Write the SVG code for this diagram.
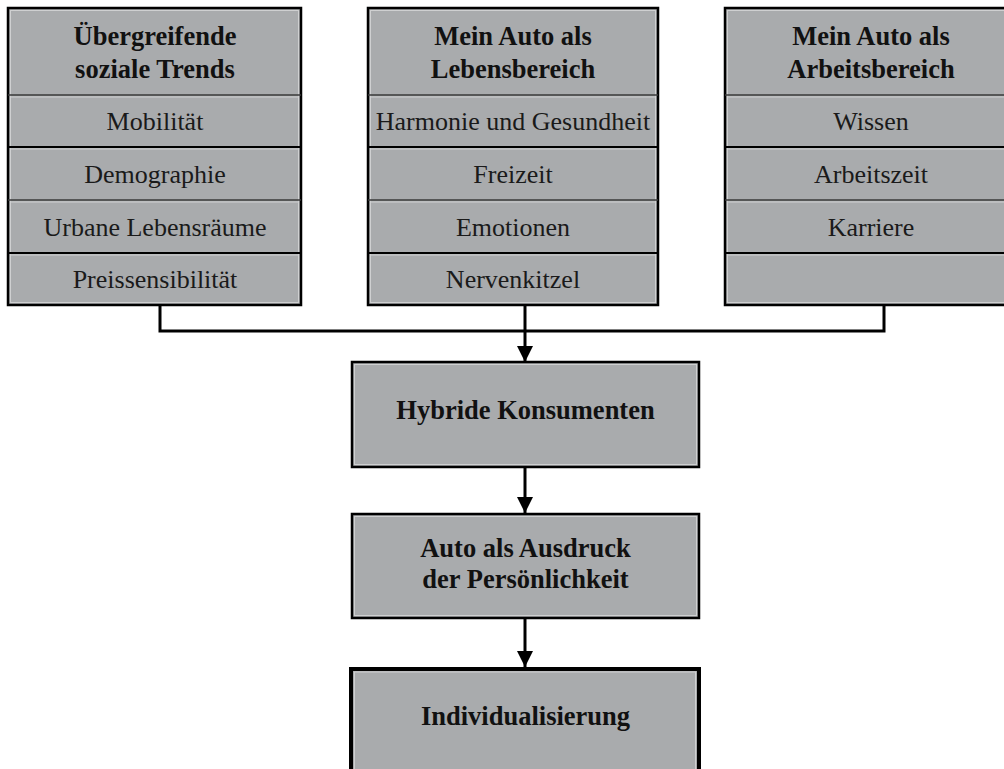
<svg xmlns="http://www.w3.org/2000/svg" width="1004" height="769" viewBox="0 0 1004 769">
  <defs>
    <style>
      .box { fill: #a9abad; stroke: #000; stroke-width: 2.5; }
      .inner { fill: none; stroke: #cfd0d1; stroke-width: 1; }
      .sep { stroke: #3a3a3a; stroke-width: 1.5; }
      .sep2 { stroke: #000; stroke-width: 2.2; }
      .hl { stroke: #cfd0d1; stroke-width: 1; }
      .t { font-family: "Liberation Serif", "Times New Roman", serif; font-size: 26px; fill: #1a1a1a; text-anchor: middle; }
      .b { font-weight: bold; font-size: 26.5px; fill: #111; }
      .wire { fill: none; stroke: #000; stroke-width: 3; }
    </style>
    <marker id="arrow" viewBox="0 0 10 10" refX="10" refY="5" markerWidth="5.5" markerHeight="6.2" markerUnits="strokeWidth" orient="auto">
      <path d="M0,0 L10,5 L0,10 z" fill="#000"/>
    </marker>
  </defs>

  <!-- Column 1: social trends -->
  <g id="trends">
    <rect class="box" x="8" y="8" width="293" height="297"/>
    <rect class="inner" x="10.5" y="10.5" width="288" height="292"/>
    <line class="sep" x1="8" y1="95" x2="301" y2="95"/>
    <line class="hl" x1="10" y1="97" x2="299" y2="97"/>
    <line class="sep2" x1="8" y1="147" x2="301" y2="147"/>
    <line class="hl" x1="10" y1="149" x2="299" y2="149"/>
    <line class="sep" x1="8" y1="200" x2="301" y2="200"/>
    <line class="hl" x1="10" y1="202" x2="299" y2="202"/>
    <line class="sep2" x1="8" y1="253" x2="301" y2="253"/>
    <line class="hl" x1="10" y1="255" x2="299" y2="255"/>
    <text class="t b" x="155" y="45">Übergreifende</text>
    <text class="t b" x="155" y="78">soziale Trends</text>
    <text class="t" x="155" y="130">Mobilität</text>
    <text class="t" x="155" y="183">Demographie</text>
    <text class="t" x="155" y="236">Urbane Lebensräume</text>
    <text class="t" x="155" y="288">Preissensibilität</text>
  </g>

  <!-- Column 2: car as living space -->
  <g id="lebensbereich">
    <rect class="box" x="368" y="8" width="290" height="297"/>
    <rect class="inner" x="370.5" y="10.5" width="285" height="292"/>
    <line class="sep" x1="368" y1="95" x2="658" y2="95"/>
    <line class="hl" x1="370" y1="97" x2="656" y2="97"/>
    <line class="sep2" x1="368" y1="147" x2="658" y2="147"/>
    <line class="hl" x1="370" y1="149" x2="656" y2="149"/>
    <line class="sep" x1="368" y1="200" x2="658" y2="200"/>
    <line class="hl" x1="370" y1="202" x2="656" y2="202"/>
    <line class="sep2" x1="368" y1="253" x2="658" y2="253"/>
    <line class="hl" x1="370" y1="255" x2="656" y2="255"/>
    <text class="t b" x="513" y="45">Mein Auto als</text>
    <text class="t b" x="513" y="78">Lebensbereich</text>
    <text class="t" x="513" y="130">Harmonie und Gesundheit</text>
    <text class="t" x="513" y="183">Freizeit</text>
    <text class="t" x="513" y="236">Emotionen</text>
    <text class="t" x="513" y="288">Nervenkitzel</text>
  </g>

  <!-- Column 3: car as workspace -->
  <g id="arbeitsbereich">
    <rect class="box" x="725" y="8" width="295" height="297"/>
    <rect class="inner" x="727.5" y="10.5" width="290" height="292"/>
    <line class="sep" x1="725" y1="95" x2="1004" y2="95"/>
    <line class="hl" x1="727" y1="97" x2="1004" y2="97"/>
    <line class="sep2" x1="725" y1="147" x2="1004" y2="147"/>
    <line class="hl" x1="727" y1="149" x2="1004" y2="149"/>
    <line class="sep" x1="725" y1="200" x2="1004" y2="200"/>
    <line class="hl" x1="727" y1="202" x2="1004" y2="202"/>
    <line class="sep2" x1="725" y1="253" x2="1004" y2="253"/>
    <line class="hl" x1="727" y1="255" x2="1004" y2="255"/>
    <text class="t b" x="871" y="45">Mein Auto als</text>
    <text class="t b" x="871" y="78">Arbeitsbereich</text>
    <text class="t" x="871" y="130">Wissen</text>
    <text class="t" x="871" y="183">Arbeitszeit</text>
    <text class="t" x="871" y="236">Karriere</text>
  </g>

  <!-- Flow boxes -->
  <g id="hybride">
    <rect class="box" x="352" y="362" width="347" height="105"/>
    <rect class="inner" x="354.5" y="364.5" width="342" height="100"/>
    <text class="t b" x="525.5" y="419">Hybride Konsumenten</text>
  </g>

  <g id="ausdruck">
    <rect class="box" x="352" y="514" width="347" height="104"/>
    <rect class="inner" x="354.5" y="516.5" width="342" height="99"/>
    <text class="t b" x="525.5" y="557">Auto als Ausdruck</text>
    <text class="t b" x="525.5" y="588">der Persönlichkeit</text>
  </g>

  <g id="individualisierung">
    <rect class="box" x="351" y="669" width="348" height="110" style="stroke-width:4"/>
    <rect class="inner" x="354.5" y="672" width="341" height="110"/>
    <text class="t b" x="525.5" y="725">Individualisierung</text>
  </g>

  <!-- Connectors -->
  <g id="connectors">
    <polyline class="wire" points="160,305 160,331 884,331 884,305"/>
    <line class="wire" x1="525" y1="305" x2="525" y2="362" marker-end="url(#arrow)"/>
    <line class="wire" x1="525" y1="467" x2="525" y2="513" marker-end="url(#arrow)"/>
    <line class="wire" x1="525" y1="618" x2="525" y2="667" marker-end="url(#arrow)"/>
  </g>
</svg>
